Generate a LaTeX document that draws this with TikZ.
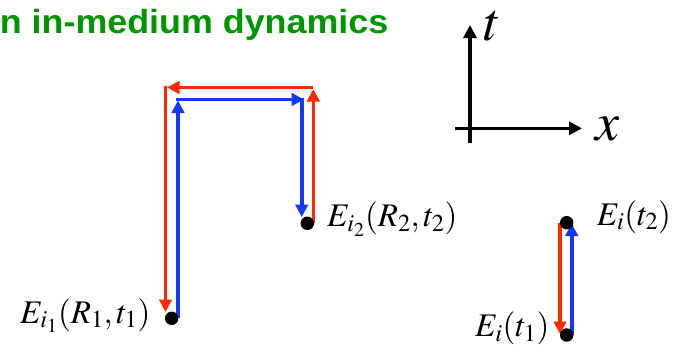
\documentclass[tikz,border=0pt]{standalone}
\usepackage{mathptmx}
\usepackage[no-math]{fontspec}
\newfontfamily\titlefont{Liberation Sans}
\usetikzlibrary{arrows.meta}
\definecolor{tgreen}{RGB}{0,150,0}
\definecolor{pred}{RGB}{255,40,0}
\definecolor{pblue}{RGB}{20,55,255}
\tikzset{
  redarr/.style={draw=pred, line width=3.4pt, -{Triangle[length=12.5pt,width=12.5pt]}},
  bluearr/.style={draw=pblue, line width=3.8pt, -{Triangle[length=12.5pt,width=12.5pt]}},
  axisarr/.style={draw=black, line width=3.4pt, -{Triangle[length=13pt,width=13pt]}},
  dotnode/.style={circle, fill=black, inner sep=0pt, minimum size=13.5pt},
  lbl/.style={inner sep=0pt, font=\fontsize{33}{40}\selectfont},
  axlbl/.style={inner sep=0pt, font=\fontsize{54}{60}\selectfont},
}
\begin{document}
\begin{tikzpicture}[x=1pt,y=-1pt]
\useasboundingbox (0,0) rectangle (675,351);
% title
\node[anchor=base east, inner sep=0pt, xscale=1.07, text=tgreen, font=\titlefont\bfseries\fontsize{33.5}{40}\selectfont] (title) at (388.5,33.3) {n in-medium dynamics};
% axes
\coordinate (ax0) at (470,143);
\coordinate (ax1) at (470,25);
\coordinate (ay0) at (455,128.3);
\coordinate (ay1) at (582,128.3);
\draw[axisarr] (ax0) -- (ax1);
\draw[axisarr] (ay0) -- (ay1);
\node[axlbl, anchor=base west] (tl) at (484,40) {$t$};
\node[axlbl, anchor=base west] (xl) at (595,140) {$x$};
% path coordinates
\coordinate (r1) at (313.3,223);
\coordinate (r2) at (313.3,89);
\coordinate (r3) at (313.3,87.5);
\coordinate (r4) at (167,87.5);
\coordinate (r5) at (165.5,85.8);
\coordinate (r6) at (165.5,312);
\coordinate (b1) at (178,318);
\coordinate (b2) at (178,100.5);
\coordinate (b3) at (176.2,99.5);
\coordinate (b4) at (304,99.5);
\coordinate (b5) at (301.7,97.6);
\coordinate (b6) at (301.7,217);
\draw[redarr] (r1) -- (r2);
\draw[redarr] (r3) -- (r4);
\draw[redarr] (r5) -- (r6);
\draw[bluearr] (b1) -- (b2);
\draw[bluearr] (b3) -- (b4);
\draw[bluearr] (b5) -- (b6);
% right pair
\coordinate (q1) at (560,222.7);
\coordinate (q2) at (560,334);
\coordinate (s1) at (571.7,335);
\coordinate (s2) at (571.7,223.5);
\draw[redarr] (q1) -- (q2);
\draw[bluearr] (s1) -- (s2);
% dots
\node[dotnode] (d1) at (171.7,318.3) {};
\node[dotnode] (d2) at (307.3,223.3) {};
\node[dotnode] (d3) at (566.7,222.7) {};
\node[dotnode] (d4) at (566.7,335) {};
% labels
\node[lbl, anchor=base west] (l1) at (20,323) {$E_{i_1}(R_1,t_1)$};
\node[lbl, anchor=base west] (l2) at (327,226.7) {$E_{i_2}(R_2,t_2)$};
\node[lbl, anchor=base west] (l3) at (596.7,225) {$E_i(t_2)$};
\node[lbl, anchor=base west] (l4) at (475,336.7) {$E_i(t_1)$};
\end{tikzpicture}
\end{document}
